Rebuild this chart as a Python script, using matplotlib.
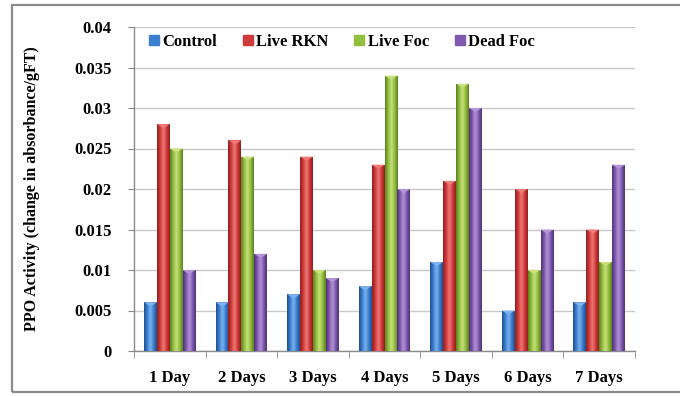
import matplotlib.pyplot as plt
import numpy as np
from matplotlib.colors import LinearSegmentedColormap
from matplotlib.patches import Rectangle

plt.rcParams['font.family'] = ['Liberation Serif', 'DejaVu Serif']
plt.rcParams['font.weight'] = 'bold'

days = ['1 Day', '2 Days', '3 Days', '4 Days', '5 Days', '6 Days', '7 Days']
series = ['Control', 'Live RKN', 'Live Foc', 'Dead Foc']
control = [0.006, 0.006, 0.007, 0.008, 0.011, 0.005, 0.006]
live_rkn = [0.028, 0.026, 0.024, 0.023, 0.021, 0.020, 0.015]
live_foc = [0.025, 0.024, 0.010, 0.034, 0.033, 0.010, 0.011]
dead_foc = [0.010, 0.012, 0.009, 0.020, 0.030, 0.015, 0.023]
yticks = [0, 0.005, 0.01, 0.015, 0.02, 0.025, 0.03, 0.035, 0.04]
ytick_labels = ['0', '0.005', '0.01', '0.015', '0.02', '0.025', '0.03', '0.035', '0.04']

# (dark edge, mid, highlight) per series for the cylinder-like shading
shades = [
    ('#1f4f8f', '#3b7fd0', '#7fb3ee'),
    ('#8c1f1c', '#d0393a', '#ee7b78'),
    ('#5c7f1f', '#93be3e', '#c8e07e'),
    ('#4d3275', '#8058b0', '#b496d8'),
]

fig = plt.figure(figsize=(6.8, 3.96), dpi=100)
# outer chart frame
fig.patches.append(Rectangle((12 / 680, 4 / 396), 700 / 680, 387 / 396,
                             transform=fig.transFigure, fill=False,
                             edgecolor='#8a8a8a', linewidth=1.6))

ax = fig.add_axes([134 / 680, 45 / 396, 501 / 680, 324 / 396])
x = np.arange(len(days))
width = 0.18
data = [control, live_rkn, live_foc, dead_foc]

for i, (vals, (dark, mid, light)) in enumerate(zip(data, shades)):
    offs = (i - 1.5) * width
    bars = ax.bar(x + offs, vals, width, color=mid, edgecolor='none',
                  label=series[i], zorder=2)
    cmap = LinearSegmentedColormap.from_list('s', [dark, mid, light, mid, dark])
    grad = np.linspace(0, 1, 64).reshape(1, -1)
    for b in bars:
        bx, bw, bh = b.get_x(), b.get_width(), b.get_height()
        im = ax.imshow(grad, cmap=cmap, extent=(bx, bx + bw, 0, bh),
                       aspect='auto', zorder=3, interpolation='bicubic')
        im.set_clip_path(b)
        # small lighter cap at the top of each bar
        cap = 0.0005
        ax.fill([bx, bx + bw, bx + bw / 2], [bh, bh, bh - cap],
                color=light, zorder=4, linewidth=0)

ax.set_xlim(-0.5, len(days) - 0.5)
ax.set_ylim(0, 0.04)
ax.set_yticks(yticks)
ax.set_yticklabels(ytick_labels, fontsize=12, fontweight='bold')
ax.set_xticks(x)
ax.set_xticklabels(days, fontsize=12, fontweight='bold')
ax.tick_params(axis='x', length=0, pad=14)
ax.tick_params(axis='y', length=4, color='#8a8a8a', pad=12)
ax.set_xticks(np.arange(-0.5, len(days)), minor=True)
ax.tick_params(axis='x', which='minor', length=5, color='#8a8a8a')
ax.grid(axis='y', color='#c8c8c8', linewidth=1.0, zorder=0)
ax.set_axisbelow(True)
for s in ['top', 'right']:
    ax.spines[s].set_visible(False)
for s in ['left', 'bottom']:
    ax.spines[s].set_color('#8a8a8a')
    ax.spines[s].set_linewidth(1.0)

ax.set_ylabel('PPO Activity (change in absorbance/gFT)', fontsize=11.5,
              fontweight='bold')
ax.yaxis.set_label_coords(-0.188, 0.5)

handles = [Rectangle((0, 0), 1, 1, color=sh[1]) for sh in shades]
ax.legend(handles, series, loc='upper left', ncol=4, frameon=False,
          bbox_to_anchor=(0.0, 1.025), handlelength=0.6,
          handleheight=0.6, handletextpad=0.2, columnspacing=1.55,
          prop={'weight': 'bold', 'size': 12})

fig.savefig('out.png', dpi=100)
